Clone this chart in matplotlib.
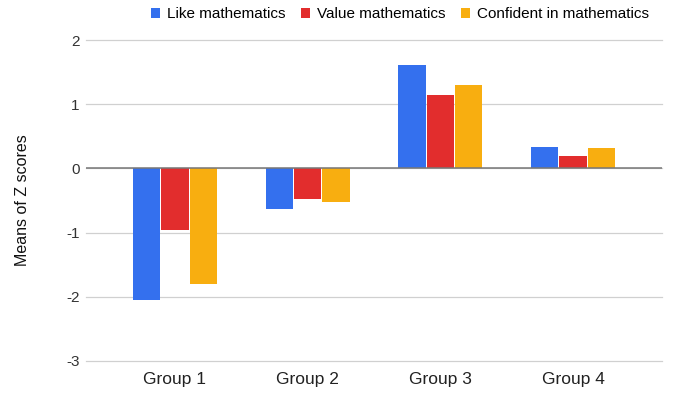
import matplotlib
matplotlib.use("Agg")
import matplotlib.pyplot as plt
import numpy as np

plt.rcParams['font.family'] = ['Liberation Sans', 'DejaVu Sans']

groups = ["Group 1", "Group 2", "Group 3", "Group 4"]
series_names = ["Like mathematics", "Value mathematics", "Confident in mathematics"]
like = [-2.05, -0.63, 1.61, 0.34]
value = [-0.96, -0.47, 1.14, 0.20]
confident = [-1.80, -0.53, 1.30, 0.31]
colors = ["#3470ee", "#e22d2d", "#f8ae10"]
yticks = [-3, -2, -1, 0, 1, 2]

fig = plt.figure(figsize=(6.74, 3.94), dpi=100)
ax = fig.add_axes([86/674, 33/394, 576/674, 321/394])

x = np.arange(len(groups))
w = 0.205
step = 0.213
for i, (vals, name, c) in enumerate(zip([like, value, confident], series_names, colors)):
    ax.bar(x + (i - 1) * step, vals, width=w, color=c, label=name, zorder=3)

ax.set_xlim(-0.67, 3.67)
ax.set_ylim(-3, 2)
ax.set_yticks(yticks)
ax.set_yticklabels([str(t) for t in yticks])
ax.set_xticks(x)
ax.set_xticklabels(groups, fontsize=12.5, color="#222222")
for s in ax.spines.values():
    s.set_visible(False)
ax.tick_params(axis='both', length=0)
ax.tick_params(axis='y', labelsize=11, colors="#333333", pad=4.5)
ax.tick_params(axis='x', pad=8)
ax.grid(axis='y', color="#d0d0d0", linewidth=0.9, zorder=0)
for gl in ax.get_ygridlines():
    gl.set_clip_on(False)
ax.axhline(0, color="#777777", linewidth=1.1, zorder=4)
ax.set_ylabel("Means of Z scores", fontsize=11.5, color="#111111")
ax.yaxis.set_label_coords(-0.097, 0.5)

fig.legend(loc='upper right', bbox_to_anchor=(658/674, 1.005), ncol=3, frameon=False,
           fontsize=11, handlelength=0.6, handleheight=0.6, handletextpad=0.45,
           columnspacing=1.0, borderaxespad=0.2)

fig.savefig("out.png", dpi=100)
